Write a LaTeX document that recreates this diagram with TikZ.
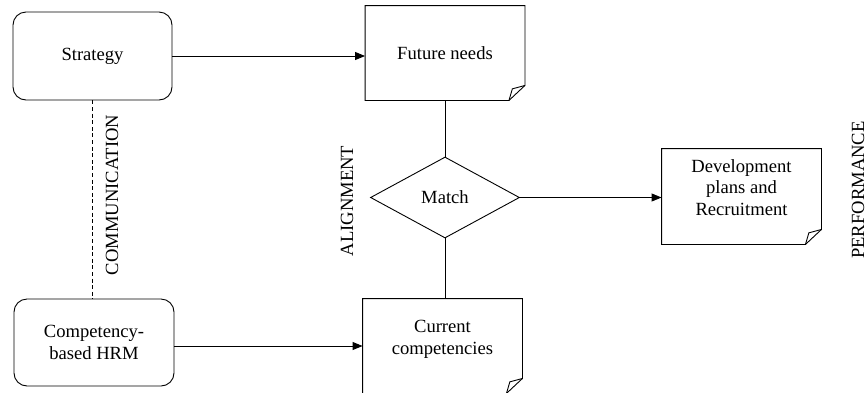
\documentclass[tikz,border=0pt]{standalone}
\usepackage{fontspec}
\setmainfont{Liberation Serif}
\usetikzlibrary{shapes.geometric,arrows.meta}

% outline with a curled corner, drawn round a named node
\newcommand\dogear[1]{%
  \draw (#1.north west) -- (#1.north east) -- ([yshift=7.5pt]#1.south east)
    -- ([xshift=-8pt]#1.south east) -- (#1.south west) -- cycle;
  \draw ([xshift=-8pt]#1.south east) -- ([xshift=-6.3pt,yshift=5.8pt]#1.south east)
    -- ([yshift=7.5pt]#1.south east);
}
\newcommand\lifted[1]{\raisebox{3.5pt}[\height][\depth]{\begin{tabular}{@{}c@{}}#1\end{tabular}}}

\begin{document}
\begin{tikzpicture}[x=0.5pt, y=-0.5pt, line width=0.45pt,
    every node/.style={font=\fontsize{9.3}{10.85}\selectfont},
    stage/.style={draw, rounded corners=6.5pt, align=center,
      minimum width=79.5pt, minimum height=44pt},
    note/.style={align=center, minimum width=79.5pt, minimum height=47pt},
    flow/.style={-{Triangle[length=5pt,width=4pt]}},
    side/.style={rotate=90, inner sep=0pt}]
  \useasboundingbox (0,0) rectangle (867,392);
  \node[stage] (strategy) at (92.5,56) {Strategy};
  \node[stage, minimum width=80pt, minimum height=43.5pt] (hrm) at (94,342.5)
    {Competency-\\based HRM};
  \node[note] (future) at (445,53) {Future needs};
  \node[note] (current) at (442.5,346) {\lifted{Current\\competencies}};
  \node[note, minimum height=47.5pt] (dev) at (741.5,196.5)
    {\lifted{Development\\plans and\\Recruitment}};
  \node[draw, diamond, aspect=1.84, minimum width=74.5pt, minimum height=40.5pt,
    inner sep=0pt] (match) at (445,197.5) {Match};
  \dogear{future}
  \dogear{current}
  \dogear{dev}
  \draw[flow] (strategy.east) -- (strategy.east -| future.west);
  \draw (future.south) -- (match.north);
  \draw (match.south) -- (match.south |- current.north);
  \draw[flow] (match.east) -- (match.east -| dev.west);
  \draw[flow] (hrm.east |- current.west) -- (current.west);
  \draw[dash pattern=on 2pt off 1.3pt] (strategy.south) -- (strategy.south |- hrm.north);
  \node[side] (commtext) at (112,195) {COMMUNICATION};
  \node[side] (aligntext) at (347,201) {ALIGNMENT};
  \node[side] (perftext) at (858,190) {PERFORMANCE};
\end{tikzpicture}
\end{document}
